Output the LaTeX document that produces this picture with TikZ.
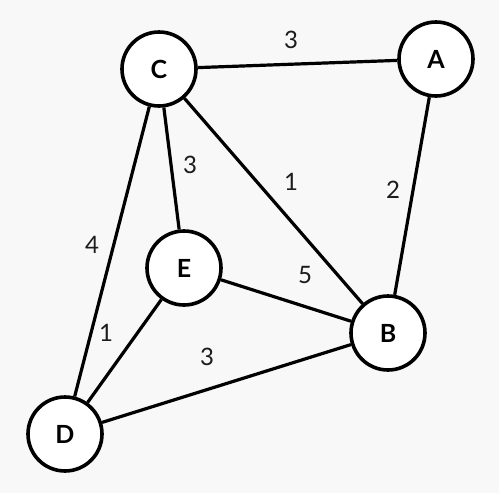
\documentclass[tikz,border=0pt]{standalone}
\usepackage{fontspec}
\setmainfont{Lato}
\usepackage{tikz}
\usetikzlibrary{positioning, calc}
\definecolor{bggray}{HTML}{F8F8F8}
\definecolor{wtgray}{HTML}{1C1C1C}

\tikzset{
  vertex/.style={circle, draw=black, fill=white, line width=3.6pt,
    minimum size=74pt, inner sep=0pt, font=\fontsize{25}{27}\selectfont\bfseries},
  link/.style={line width=3.2pt, black},
  weight/.style={text=wtgray, inner sep=0pt, font=\fontsize{24}{26}\selectfont}
}

\begin{document}
\begin{tikzpicture}[x=1pt, y=-1pt]
  \fill[bggray] (0,0) rectangle (499,493);
  \useasboundingbox (0,0) rectangle (499,493);

  \node[vertex] (C) at (159, 69) {C};
  \node[vertex] (A) at (436, 59) {A};
  \node[vertex] (E) at (184, 268) {E};
  \node[vertex] (B) at (388, 333) {B};
  \node[vertex] (D) at (65, 434) {D};

  \draw[link] (C) -- (A);
  \draw[link] (C) -- (E);
  \draw[link] (C) -- (B);
  \draw[link] (A) -- (B);
  \draw[link] (C) -- (D);
  \draw[link] (E) -- (B);
  \draw[link] (E) -- (D);
  \draw[link] (D) -- (B);

  \node[weight] (wCA) at (291, 40) {3};
  \node[weight] (wCE) at (190, 165) {3};
  \node[weight] (wCB) at (291, 182) {1};
  \node[weight] (wAB) at (393, 190) {2};
  \node[weight] (wCD) at (92, 245) {4};
  \node[weight] (wEB) at (305, 275) {5};
  \node[weight] (wED) at (106, 333) {1};
  \node[weight] (wDB) at (207, 357) {3};
\end{tikzpicture}
\end{document}
